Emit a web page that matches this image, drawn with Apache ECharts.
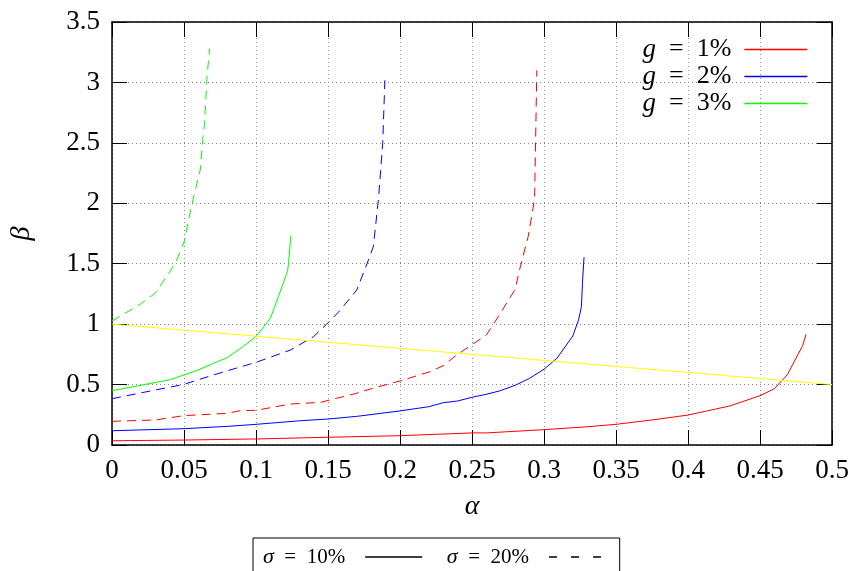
<!DOCTYPE html>
<html>
<head>
<meta charset="utf-8">
<script src="https://cdn.jsdelivr.net/npm/echarts@6/dist/echarts.min.js"></script>
<style>html,body{margin:0;padding:0;background:#fff;}#c{width:857px;height:571px;}</style>
</head>
<body>
<div id="c"></div>
<script>
// ---- data ----
const xTicks = [0, 0.05, 0.1, 0.15, 0.2, 0.25, 0.3, 0.35, 0.4, 0.45, 0.5];
const yTicks = [0, 0.5, 1, 1.5, 2, 2.5, 3, 3.5];

const g1s10Alpha = [0, 0.05, 0.1, 0.15, 0.2, 0.25, 0.26, 0.3, 0.329, 0.35, 0.375, 0.4, 0.429, 0.45, 0.46, 0.469, 0.4796, 0.482];
const g1s10Beta  = [0.035, 0.041, 0.05, 0.064, 0.077, 0.10, 0.10, 0.127, 0.15, 0.171, 0.207, 0.248, 0.323, 0.408, 0.466, 0.582, 0.822, 0.916];

const g1s20Alpha = [0, 0.03, 0.05, 0.08, 0.089, 0.1, 0.124, 0.145, 0.154, 0.168, 0.181, 0.2, 0.221, 0.23, 0.239, 0.26, 0.269, 0.28, 0.283, 0.289, 0.2924, 0.2935, 0.295];
const g1s20Beta  = [0.196, 0.207, 0.243, 0.262, 0.284, 0.287, 0.339, 0.353, 0.381, 0.422, 0.469, 0.53, 0.607, 0.656, 0.742, 0.91, 1.076, 1.289, 1.449, 1.724, 1.96, 2.05, 3.10];

const g2s10Alpha = [0, 0.05, 0.081, 0.1, 0.131, 0.15, 0.17, 0.2, 0.22, 0.23, 0.24, 0.25, 0.26, 0.269, 0.28, 0.29, 0.3, 0.309, 0.32, 0.324, 0.326, 0.3267, 0.3278];
const g2s10Beta  = [0.118, 0.135, 0.155, 0.171, 0.201, 0.215, 0.237, 0.282, 0.317, 0.35, 0.364, 0.395, 0.42, 0.447, 0.494, 0.552, 0.627, 0.718, 0.902, 1.035, 1.145, 1.339, 1.554];

const g2s20Alpha = [0, 0.03, 0.05, 0.0705, 0.1, 0.124, 0.14, 0.149, 0.158, 0.17, 0.179, 0.1815, 0.185, 0.188, 0.1896];
const g2s20Beta  = [0.383, 0.455, 0.502, 0.58, 0.684, 0.786, 0.897, 0.999, 1.109, 1.283, 1.559, 1.642, 2.03, 2.497, 3.055];

const g3s10Alpha = [0, 0.015, 0.0405, 0.05, 0.06, 0.0705, 0.08, 0.089, 0.1, 0.11, 0.1156, 0.1218, 0.1225, 0.1242];
const g3s10Beta  = [0.449, 0.483, 0.541, 0.58, 0.621, 0.676, 0.723, 0.797, 0.897, 1.049, 1.228, 1.435, 1.49, 1.733];

const g3s20Alpha = [0, 0.006, 0.0197, 0.03, 0.0405, 0.045, 0.05, 0.0532, 0.0562, 0.0613, 0.0632, 0.0643, 0.066, 0.0678];
const g3s20Beta  = [1.026, 1.068, 1.165, 1.256, 1.44, 1.53, 1.678, 1.862, 2.028, 2.276, 2.552, 2.663, 3.05, 3.28];

const refAlpha = [0, 0.5];
const refBeta  = [1, 0.5];

const gNames = ['g = 1%', 'g = 2%', 'g = 3%'];
const sigmaNames = ['σ = 10%', 'σ = 20%'];
const gColors = ['#ff0000', '#0000ff', '#00ff00'];

// ---- chart ----
const FONT = '"Liberation Serif", "DejaVu Serif", serif';
const pairs = (xs, ys) => xs.map((x, i) => [x, ys[i]]);
const DASH = [9, 6];
const EN = '\u2002';

function curve(name, xs, ys, color, dashed) {
  return {
    type: 'line', name: name, data: pairs(xs, ys),
    showSymbol: false, symbol: 'none', smooth: false, animation: false,
    lineStyle: { color: color, width: 1, type: dashed ? DASH : 'solid' },
    itemStyle: { color: color }, z: 3
  };
}

const tickFmt = v => String(parseFloat(Number(v).toFixed(2)));

const axisCommon = {
  type: 'value',
  axisLine: { show: true, onZero: false, lineStyle: { color: '#000', width: 1.5 } },
  axisTick: { show: true, inside: true, length: 15, lineStyle: { color: '#000', width: 1 } },
};

const option = {
  animation: false,
  backgroundColor: '#fff',
  grid: { left: 112, right: 25, top: 22, bottom: 126, containLabel: false, outerBoundsMode: 'none' },
  xAxis: [
    Object.assign({}, axisCommon, {
      position: 'bottom', min: xTicks[0], max: xTicks[xTicks.length - 1], interval: xTicks[1] - xTicks[0],
      name: 'α', nameLocation: 'middle', nameGap: 48,
      nameTextStyle: { fontFamily: FONT, fontSize: 28, fontStyle: 'italic', color: '#000' },
      axisLabel: { show: true, margin: 12, fontFamily: FONT, fontSize: 27, color: '#000', formatter: tickFmt },
      splitLine: { show: true, lineStyle: { color: '#888', type: [1, 3], width: 1 } }
    }),
    Object.assign({}, axisCommon, {
      position: 'top', min: xTicks[0], max: xTicks[xTicks.length - 1], interval: xTicks[1] - xTicks[0],
      axisLabel: { show: false }, splitLine: { show: false }
    })
  ],
  yAxis: [
    Object.assign({}, axisCommon, {
      position: 'left', min: yTicks[0], max: yTicks[yTicks.length - 1], interval: yTicks[1] - yTicks[0],
      name: 'β', nameLocation: 'middle', nameGap: 76, nameRotate: 90,
      nameTextStyle: { fontFamily: FONT, fontSize: 28, fontStyle: 'italic', color: '#000' },
      axisLabel: { show: true, margin: 12, fontFamily: FONT, fontSize: 27, color: '#000', formatter: tickFmt },
      splitLine: { show: true, lineStyle: { color: '#888', type: [1, 3], width: 1 } }
    }),
    Object.assign({}, axisCommon, {
      position: 'right', min: yTicks[0], max: yTicks[yTicks.length - 1], interval: yTicks[1] - yTicks[0],
      axisLabel: { show: false }, splitLine: { show: false }
    })
  ],
  legend: [
    {
      data: gNames, orient: 'vertical', align: 'right', right: 49, top: 36,
      itemWidth: 63, itemHeight: 14, itemGap: 0, padding: 0,
      selectedMode: false,
      itemStyle: { opacity: 0 },
      lineStyle: { width: 1.3 },
      textStyle: {
        fontFamily: FONT, fontSize: 26, lineHeight: 24, color: '#000', padding: [0, 8, 0, 0],
        rich: { i: { fontFamily: FONT, fontSize: 27, fontStyle: 'italic', lineHeight: 24 } }
      },
      formatter: n => '{i|g}' + EN + '=' + EN + n.slice(4)
    },
    {
      data: [
        { name: sigmaNames[0] },
        { name: sigmaNames[1], lineStyle: { type: [8, 14] } }
      ],
      orient: 'horizontal', align: 'right', left: 253, top: 538,
      itemWidth: 57, itemHeight: 14, itemGap: 24,
      padding: [8, 13, 20, 10],
      borderColor: '#000', borderWidth: 1,
      selectedMode: false,
      itemStyle: { opacity: 0 },
      lineStyle: { width: 1.3 },
      textStyle: {
        fontFamily: FONT, fontSize: 21, color: '#000', padding: [0, 15, 0, 0],
        rich: { i: { fontFamily: FONT, fontSize: 22, fontStyle: 'italic' } }
      },
      formatter: n => '{i|σ}' + EN + '=' + EN + n.slice(4)
    }
  ],
  series: [
    curve(gNames[0], g1s10Alpha, g1s10Beta, gColors[0], false),
    curve(gNames[1], g2s10Alpha, g2s10Beta, gColors[1], false),
    curve(gNames[2], g3s10Alpha, g3s10Beta, gColors[2], false),
    curve('g1-s20', g1s20Alpha, g1s20Beta, gColors[0], true),
    curve('g2-s20', g2s20Alpha, g2s20Beta, gColors[1], true),
    curve('g3-s20', g3s20Alpha, g3s20Beta, gColors[2], true),
    curve('ref', refAlpha, refBeta, '#ffff00', false),
    curve(sigmaNames[0], [], [], '#000', false),
    curve(sigmaNames[1], [], [], '#000', true)
  ]
};

const chart = echarts.init(document.getElementById('c'), null, { renderer: 'canvas' });
chart.setOption(option);
</script>
</body>
</html>
